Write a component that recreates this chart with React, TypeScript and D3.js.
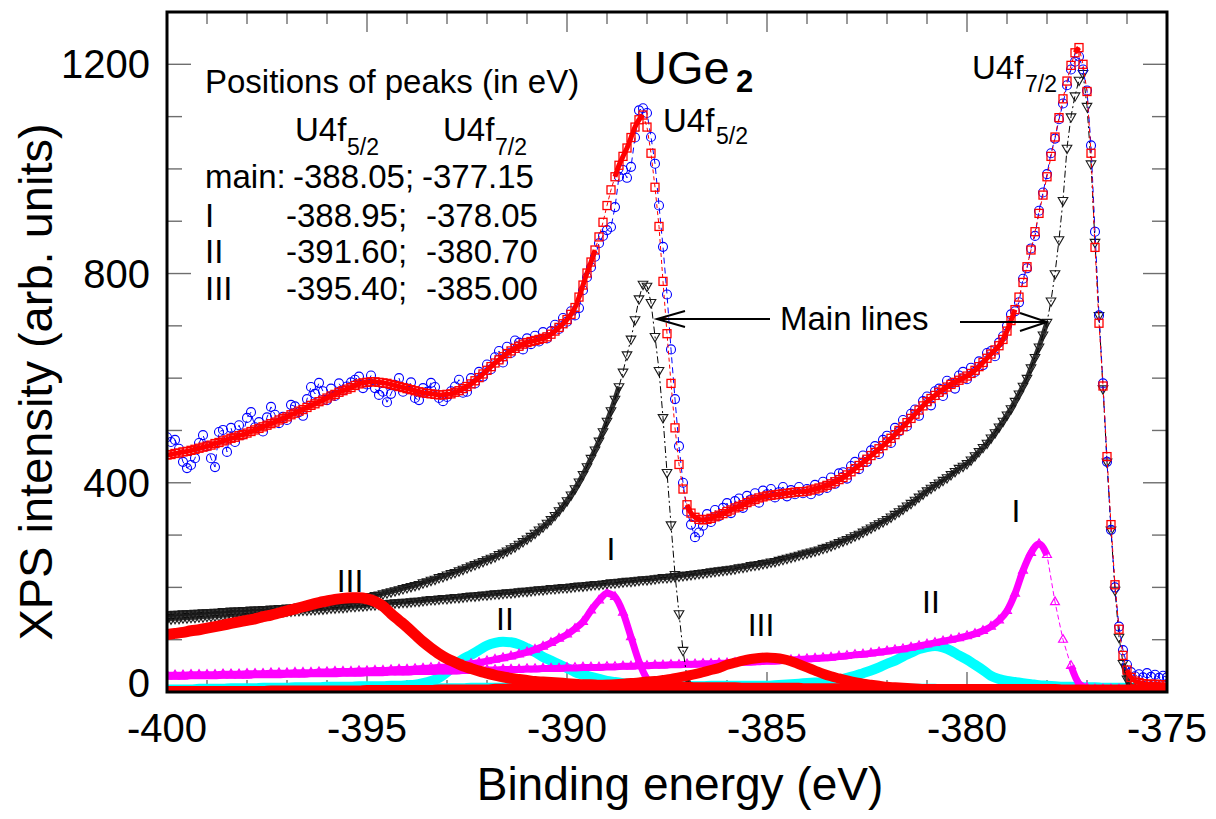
import React from 'react';
import * as d3 from 'd3';

// ---------- data ----------
const E_START = -400;
const FINE_STEP = 0.1;   // experimental data, fit, main lines
const COARSE_STEP = 0.2; // satellite components

const expData = [
  487,478,482,465,440,428,434,447,476,491,
  470,447,430,497,501,459,505,478,510,492,
  524,535,506,516,498,525,545,530,514,526,
  520,549,546,535,528,560,583,570,591,575,
  558,580,566,590,577,584,592,597,603,581,
  588,605,581,568,574,554,570,587,600,574,
  580,592,562,558,581,574,591,583,562,556,
  564,575,584,597,572,574,600,590,612,603,
  626,617,640,652,630,660,648,672,668,655,
  676,665,681,670,688,676,690,702,694,715,
  708,728,720,734,768,793,812,832,858,872,
  883,889,927,985,998,983,1004,1060,1112,1116,
  1107,1061,1010,930,851,760,655,560,470,400,
  345,320,296,305,318,340,325,348,336,352,
  361,342,365,370,352,375,368,380,362,385,
  378,388,372,382,392,374,386,378,392,380,
  388,378,396,385,402,390,410,398,418,420,
  408,432,440,426,452,440,462,470,455,482,
  490,476,505,498,520,508,532,540,528,556,
  565,548,575,580,566,595,590,580,605,612,
  598,620,612,632,625,648,652,642,668,680,
  700,722,728,745,790,810,848,872,920,955,
  990,1030,1058,1095,1125,1160,1190,1205,1215,1190,
  1150,1045,880,720,590,440,310,200,125,80,
  52,38,30,34,28,36,29,33,27,31,
  28,
];

const fitCurve = [
  453,454,456,457,459,460,462,464,466,468,
  470,472,475,477,480,482,485,487,490,492,
  495,498,501,504,507,510,513,516,520,523,
  526,530,533,537,540,544,548,551,555,558,
  562,566,569,573,576,579,582,586,589,591,
  592,593,593,592,591,590,588,586,584,582,
  580,578,576,574,572,571,570,569,568,568,
  569,570,573,576,580,584,589,595,601,608,
  615,622,629,635,641,647,652,657,661,665,
  668,670,672,674,676,679,684,690,697,704,
  712,722,735,755,778,801,822,845,870,898,
  930,960,985,1007,1024,1040,1060,1080,1094,1103,
  1080,1030,965,890,785,685,590,505,435,388,
  358,342,334,330,329,330,332,335,338,341,
  345,348,352,355,358,362,365,368,371,373,
  375,376,377,378,379,380,381,382,383,383,
  384,386,388,390,392,395,398,402,406,410,
  415,421,427,433,439,445,452,458,465,471,
  478,485,492,500,507,515,523,531,539,547,
  555,561,567,573,578,583,588,592,596,600,
  604,609,615,622,630,638,646,654,662,674,
  690,710,731,755,783,813,845,880,915,950,
  985,1024,1061,1098,1134,1168,1198,1222,1232,1200,
  1148,1030,850,705,585,450,320,205,120,70,
  42,28,21,18,16,15,15,15,14,14,
  14,
];

const mainLine52 = [
  148,148,149,149,150,150,150,151,151,152,
  152,152,153,153,154,154,155,155,155,156,
  156,157,157,157,158,158,159,159,160,160,
  161,161,162,163,163,164,165,166,167,167,
  168,169,170,172,173,174,176,177,179,180,
  182,183,185,186,188,190,192,194,196,198,
  200,202,204,206,209,211,214,216,219,221,
  224,227,229,232,235,238,241,244,247,250,
  253,256,259,263,266,270,274,278,283,288,
  293,298,304,310,316,323,330,338,347,356,
  366,377,389,402,416,431,447,463,480,498,
  518,538,560,584,612,645,675,712,752,780,
  776,745,680,615,525,420,320,225,150,80,
  28,7,2,0,0,
];

const mainLine72 = [
  140,140,141,141,142,142,143,143,144,144,
  145,145,146,146,147,147,148,148,149,149,
  150,150,151,151,152,152,153,153,154,154,
  155,155,156,156,157,157,158,158,159,159,
  160,161,161,162,162,163,164,164,165,165,
  166,167,167,168,169,169,170,171,171,172,
  172,173,174,174,175,176,177,177,178,179,
  179,180,181,181,182,183,184,184,185,186,
  186,187,188,188,189,190,190,191,192,193,
  193,194,195,196,196,197,198,198,199,200,
  200,201,202,203,203,204,205,206,206,207,
  208,209,209,210,211,212,212,213,214,215,
  215,216,217,218,219,219,220,221,222,223,
  224,225,226,227,228,229,230,231,232,233,
  234,235,236,238,239,240,242,243,244,246,
  247,249,250,252,254,256,258,260,262,264,
  266,268,270,272,275,277,280,283,286,289,
  292,295,299,302,306,310,314,318,322,326,
  330,335,340,345,350,356,361,367,373,379,
  385,390,395,400,405,410,416,422,428,432,
  437,444,452,460,468,476,486,496,507,518,
  530,542,556,570,585,600,620,640,660,683,
  707,748,800,865,940,1040,1100,1140,1170,1183,
  1120,1010,860,720,580,440,310,195,105,55,
  25,10,4,1,0,0,0,0,0,0,
  0,
];

const peakI52 = [
  32,32,32,33,33, 33,33,34,34,34, 35,35,35,36,36, 36,37,37,37,38,
  38,39,39,39,40, 40,41,41,42,43, 43,44,45,46,47, 48,50,52,54,56,
  59,62,65,68,72, 76,81,87,94,102, 110,121,134,156,175, 189,182,152,105,58,
  25,8,3,2,2, 2,2,2,2,2, 2,2,2,2,2, 2,2,2,2,2, 2,2,2,2,2,
  2,2,2,2,2, 2,2,2,2,2, 2,2,2,2,2, 2,2,2,2,2, 2,2,2,2,2,
  2,2,2,2,2, 2,2,2,2,2,
  2,
];

const peakI72 = [
  30,30,30,31,31, 31,31,32,32,32, 32,33,33,33,33, 34,34,34,35,35,
  35,35,36,36,36, 37,37,37,38,38, 38,39,39,39,40, 40,40,41,41,41,
  42,42,43,43,43, 44,44,45,45,45, 46,46,47,47,47, 48,48,49,49,50,
  50,51,51,52,52, 53,53,54,54,55, 55,56,57,57,58, 59,59,60,61,62,
  63,64,65,66,68, 69,71,72,74,76, 78,80,82,85,88, 91,94,97,100,103,
  107,111,117,125,137, 155,188,232,266,283, 262,172,100,50,16,
  8,5,5,5,5, 5,5,5,5,5,
  5,
];

const peakII52 = [
  5,5,5,5,6, 6,6,6,7,7, 7,7,8,8,8, 8,9,9,9,9, 10,10,10,10,11,
  11,11,11,12,12, 13,14,17,21,27, 38,52,63,71,80, 89,94,96,95,91,
  84,76,67,60,53, 46,38,33,29,25, 21,19,17,15,14, 13,12,12,11,11,
  11,10,10,10,10, 9,9,9,9,9, 8,8,8,8,8, 8,7,7,7,7, 7,7,7,6,6,
  6,6,6,6,6, 6,6,5,5,5, 5,5,5,5,5, 5,5,5,5,5, 4,4,4,4,4,
  4,4,4,4,4, 4,4,4,4,4,
  4,
];

const peakII72 = [
  3,3,3,3,3, 3,3,3,3,4, 4,4,4,4,4, 4,4,5,5,5, 5,5,5,5,5,
  6,6,6,6,6, 6,6,7,7,7, 7,7,7,8,8, 8,8,8,8,9, 9,9,9,9,9,
  10,10,10,10,10, 10,10,11,11,11, 11,11,11,11,11, 11,11,11,12,12, 12,12,12,12,12,
  12,13,14,15,16, 17,18,19,21,23, 27,31,36,41,47, 54,60,68,75,82, 86,88,85,79,70,
  62,52,42,31,25, 21,19,17,15,13, 12,11,10,10,9, 9,9,8,8,8, 8,8,7,7,7,
  7,
];

const peakIII52 = [
  110,112,114,117,119, 122,125,128,131,134, 137,140,144,147,151, 155,159,163,167,171,
  174,177,179,180,180, 178,173,164,150,137, 124,110,96,84,73, 64,57,50,45,40,
  36,32,29,26,24, 22,20,19,18,17, 16,15,14,14,13, 13,12,12,11,11,
  10,10,10,9,9, 9,8,8,8,8, 8,8,7,7,7, 7,7,7,7,7, 6,6,6,6,6,
  6,6,6,6,6, 6,6,5,5,5, 5,5,5,5,5, 5,5,5,5,5, 5,5,5,5,5,
  5,5,4,4,4, 4,4,4,4,4, 4,4,4,4,4,
  4,
];

const peakIII72 = [
  2,2,2,2,2, 2,2,2,2,2, 2,2,2,3,3, 3,3,3,3,3, 3,3,3,3,3,
  4,4,4,4,4, 4,4,4,4,5, 5,5,5,5,5, 5,6,6,6,7, 7,8,8,9,9,
  10,11,12,12,13, 14,15,16,17,18, 20,21,23,25,28, 31,34,38,42,46, 52,56,60,63,65,
  66,65,63,59,53, 47,41,35,30,26, 22,19,16,14,12, 10,9,8,7,6, 5,5,4,4,4,
  3,3,3,3,3, 3,3,3,3,3, 3,2,2,2,2, 2,2,2,2,2, 2,2,2,2,2,
  2,
];

const yTickLabels = [0, 400, 800, 1200];
const xTickLabels = [-400, -395, -390, -385, -380, -375];
const tableHeader = 'Positions of peaks (in eV)';
const tableRows = [
  { name: 'main:', p52: '-388.05;', p72: '-377.15' },
  { name: 'I', p52: '-388.95;', p72: '-378.05' },
  { name: 'II', p52: '-391.60;', p72: '-380.70' },
  { name: 'III', p52: '-395.40;', p72: '-385.00' },
];

// ---------- drawing ----------
const FONT = "'Liberation Sans', Arial, Helvetica, sans-serif";
const W = 1216;
const H = 819;
const L = 167, R = 1167, T = 12, B = 692;

type P = [number, number];
const toPoints = (vals: number[], step: number): P[] =>
  vals.map((v, i) => [+(E_START + i * step).toFixed(2), v] as P);

// true where the curve is flat and low enough that its dense markers merge into a band
const flatAt = (arr: P[], i: number, maxSlope: number, maxVal: number) => {
  const a = arr[Math.max(0, i - 1)];
  const b = arr[Math.min(arr.length - 1, i + 1)];
  const s = Math.abs(b[1] - a[1]) / Math.max(1e-6, b[0] - a[0]);
  return s < maxSlope && arr[i][1] < maxVal;
};

export default function App() {
  const x = d3.scaleLinear().domain([-400, -375]).range([L, R]);
  const y = d3.scaleLinear().domain([0, 1300]).range([B, T]);
  const lin = d3.line<P>().x(d => x(d[0])).y(d => y(d[1]));
  const smooth = d3.line<P>().x(d => x(d[0])).y(d => y(d[1])).curve(d3.curveMonotoneX);
  const band = (arr: P[], maxSlope: number, frac = 1.01) => {
    const mx = d3.max(arr, d => d[1]) || 1;
    return d3.line<P>()
      .x(d => x(d[0])).y(d => y(d[1]))
      .defined((_, i) => flatAt(arr, i, maxSlope, mx * frac))
      .curve(d3.curveMonotoneX)(arr) || '';
  };

  const exp = toPoints(expData, FINE_STEP);
  const fit = toPoints(fitCurve, FINE_STEP);
  const m52 = toPoints(mainLine52, FINE_STEP);
  const m72 = toPoints(mainLine72, FINE_STEP);
  const i52 = toPoints(peakI52, COARSE_STEP);
  const i72 = toPoints(peakI72, COARSE_STEP);
  const ii52 = toPoints(peakII52, COARSE_STEP);
  const ii72 = toPoints(peakII72, COARSE_STEP);
  const iii52 = toPoints(peakIII52, COARSE_STEP);
  const iii72 = toPoints(peakIII72, COARSE_STEP);

  const triUp = d3.symbol().type(d3.symbolTriangle).size(34)() as string;
  const triDown = d3.symbol().type(d3.symbolTriangle).size(40)() as string;

  const yMinor = y.ticks(13);
  const xMinor = x.ticks(25);

  const tickCol = '#6e6e6e';

  return (
    <svg width={W} height={H} style={{ position: 'absolute', left: 0, top: 0, background: '#fff' }}
      fontFamily={FONT}>
      <defs>
        <clipPath id="plot">
          <rect x={L} y={T} width={R - L} height={B - T} />
        </clipPath>
      </defs>

      {/* ticks */}
      <g stroke={tickCol} strokeWidth={1.4}>
        {yMinor.map(v => {
          const major = v % 400 === 0;
          const len = major ? 24 : 15;
          return (
            <g key={'y' + v}>
              <line x1={L} x2={L + len} y1={y(v)} y2={y(v)} />
              <line x1={R} x2={R - len} y1={y(v)} y2={y(v)} />
            </g>
          );
        })}
        {xMinor.map(v => {
          const major = Math.round(v) % 5 === 0;
          return (
            <g key={'x' + v}>
              <line x1={x(v)} x2={x(v)} y1={B} y2={B - (major ? 20 : 12)} />
              <line x1={x(v)} x2={x(v)} y1={T} y2={T + (major ? 20 : 12)} />
            </g>
          );
        })}
      </g>

      <g clipPath="url(#plot)">
        {/* II components */}
        <path d={smooth(ii52) || ''} fill="none" stroke="#00ffff" strokeWidth={10} strokeLinejoin="round" />
        <path d={smooth(ii72) || ''} fill="none" stroke="#00ffff" strokeWidth={10} strokeLinejoin="round" />
        {/* I components */}
        {[i52, i72].map((s, k) => (
          <g key={'i' + k}>
            <path d={band(s, 300)} fill="none" stroke="#ff00ff" strokeWidth={7} strokeLinejoin="round" />
            <path d={lin(s) || ''} fill="none" stroke="#ff00ff" strokeWidth={1} strokeDasharray="5,3" />
            {s.map((d, j) => (
              <path key={j} d={triUp} transform={`translate(${x(d[0])},${y(d[1])})`}
                fill="none" stroke="#ff00ff" strokeWidth={1.2} />
            ))}
          </g>
        ))}
        {/* main lines */}
        {[m52, m72].map((s, k) => (
          <g key={'m' + k}>
            <path d={band(s, 420, 0.76)} fill="none" stroke="#333" strokeWidth={5} strokeLinejoin="round" />
            <path d={lin(s) || ''} fill="none" stroke="#000" strokeWidth={1} strokeDasharray="7,3,2,3" />
            {s.map((d, j) => (
              <path key={j} d={triDown} transform={`translate(${x(d[0])},${y(d[1])}) rotate(180)`}
                fill="none" stroke="#1a1a1a" strokeWidth={1.1} />
            ))}
          </g>
        ))}
        {/* III components */}
        <path d={smooth(iii52) || ''} fill="none" stroke="#ff0000" strokeWidth={11} strokeLinejoin="round" />
        <path d={smooth(iii72) || ''} fill="none" stroke="#ff0000" strokeWidth={10} strokeLinejoin="round" />

        {/* experimental data */}
        <path d={lin(exp) || ''} fill="none" stroke="#0000ff" strokeWidth={1} strokeDasharray="6,4" />
        {exp.map((d, j) => (
          <circle key={'e' + j} cx={x(d[0])} cy={y(d[1])} r={4.5} fill="none" stroke="#0000ff" strokeWidth={1.1} />
        ))}
        {/* fit */}
        <path d={band(fit, 250)} fill="none" stroke="#ff0000" strokeWidth={5} strokeLinejoin="round" />
        <path d={lin(fit) || ''} fill="none" stroke="#ff0000" strokeWidth={1} strokeDasharray="4,3" />
        {fit.map((d, j) => (
          <rect key={'f' + j} x={x(d[0]) - 4} y={y(d[1]) - 4} width={8} height={8}
            fill="none" stroke="#ff0000" strokeWidth={1.3} />
        ))}
      </g>

      {/* frame */}
      <rect x={L} y={T} width={R - L} height={B - T} fill="none" stroke="#000" strokeWidth={3} />

      {/* tick labels */}
      {yTickLabels.map(v => (
        <text key={'yl' + v} x={150} y={y(v) + (v === 0 ? 5 : 14)} fontSize={40} textAnchor="end" fill="#000">{v}</text>
      ))}
      {xTickLabels.map(v => (
        <text key={'xl' + v} x={x(v)} y={742} fontSize={40} textAnchor="middle" fill="#000">{v}</text>
      ))}

      {/* axis titles */}
      <text x={680} y={800} fontSize={46} textAnchor="middle">Binding energy (eV)</text>
      <text transform="translate(52,382) rotate(-90)" fontSize={47} textAnchor="middle">XPS intensity (arb. units)</text>

      {/* title */}
      <text x={633} y={84} fontSize={47}>UGe</text>
      <text x={736} y={92} fontSize={31} fontWeight="bold">2</text>

      {/* table */}
      <text x={205} y={93} fontSize={33}>{tableHeader}</text>
      <text x={295} y={141} fontSize={33}>U4f</text>
      <text x={347} y={155} fontSize={23}>5/2</text>
      <text x={443} y={141} fontSize={33}>U4f</text>
      <text x={495} y={155} fontSize={23}>7/2</text>
      {tableRows.map((r, k) => {
        const by = [188, 227, 263, 300][k];
        return (
          <g key={'row' + k}>
            <text x={205} y={by} fontSize={33}>{r.name}</text>
            <text x={k === 0 ? 293 : 286} y={by} fontSize={33}>{r.p52}</text>
            <text x={k === 0 ? 422 : 426} y={by} fontSize={33}>{r.p72}</text>
          </g>
        );
      })}

      {/* peak labels */}
      <text x={663} y={132} fontSize={33}>U4f</text>
      <text x={716} y={144} fontSize={23}>5/2</text>
      <text x={972} y={79} fontSize={33}>U4f</text>
      <text x={1025} y={92} fontSize={23}>7/2</text>

      <text x={350} y={592} fontSize={32} textAnchor="middle">III</text>
      <text x={505} y={630} fontSize={32} textAnchor="middle">II</text>
      <text x={611} y={560} fontSize={32} textAnchor="middle">I</text>
      <text x={761} y={636} fontSize={32} textAnchor="middle">III</text>
      <text x={931} y={613} fontSize={32} textAnchor="middle">II</text>
      <text x={1016} y={522} fontSize={32} textAnchor="middle">I</text>

      {/* Main lines annotation */}
      <text x={780} y={330} fontSize={33}>Main lines</text>
      <g stroke="#000" strokeWidth={2} fill="none">
        <line x1={770} y1={319} x2={657} y2={319} />
        <polyline points="685,311 657,319 685,327" />
        <line x1={960} y1={322} x2={1047} y2={322} />
        <polyline points="1020,313 1047,322 1020,331" />
      </g>
    </svg>
  );
}
